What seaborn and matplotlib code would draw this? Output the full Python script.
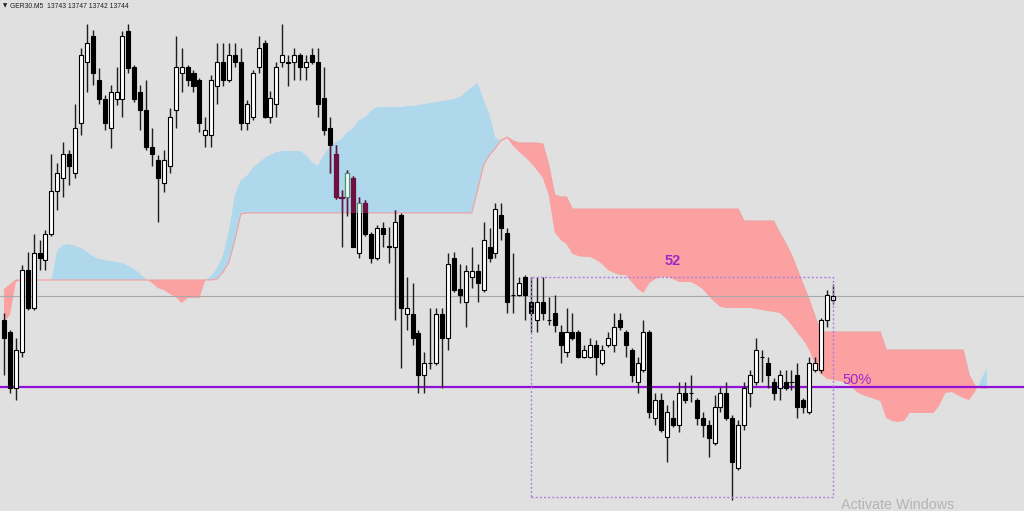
import numpy as np
import matplotlib
matplotlib.use("Agg")
import matplotlib.pyplot as plt
from matplotlib.patches import Rectangle
import seaborn as sns
import pandas as pd

# GER30 M5 candles (oldest -> newest)
opens = [13738, 13735, 13721, 13730, 13750.5, 13741, 13754.75, 13753, 13759.5, 13770.25,
         13773.5, 13779.5, 13774.75, 13787.25, 13802.5, 13809, 13798, 13793.25, 13786, 13793.25,
         13793.25, 13810.25, 13801.25, 13795, 13790.5, 13781.25, 13778, 13772.25, 13776.5, 13790.5,
         13799.75, 13801.25, 13799.75, 13798, 13784.25, 13784.25, 13796.5, 13802.5, 13798, 13804.25,
         13802.5, 13787.25, 13788.75, 13801.25, 13807.25, 13788.75, 13792, 13802.5, 13802.5, 13802.5,
         13804.25, 13801.25, 13804.25, 13802.5, 13793.5, 13786, 13779.5, 13768.75, 13768.75, 13773.5,
         13754.75, 13767.25, 13759.5, 13753.5, 13761, 13756.5, 13756.25, 13764.25, 13739.5, 13739.5,
         13734.75, 13724.25, 13727.25, 13727.25, 13739.5, 13733.5, 13753.5, 13745.75, 13742.5, 13748.75,
         13750.25, 13745.5, 13756.25, 13754.75, 13764.25, 13759.75, 13744.25, 13744.25, 13748.75, 13742.5,
         13738, 13742.5, 13738, 13739.75, 13735, 13730, 13735, 13735, 13728.75, 13728.75,
         13731.75, 13727.25, 13731.75, 13731.75, 13738, 13735, 13730.5, 13722.5, 13725.5, 13735,
         13713.5, 13718, 13708.75, 13713.5, 13711.75, 13719.75, 13719.75, 13718, 13713.5, 13711.75,
         13707.25, 13716.25, 13719.75, 13713.5, 13701, 13711.75, 13719.75, 13722.5, 13728.75, 13727.25,
         13722.5, 13721, 13722.5, 13722.5, 13724.25, 13718, 13715, 13725.5, 13725.5, 13738,
         13743]
highs = [13739.75, 13735.5, 13733.5, 13751.75, 13755, 13759.5, 13758, 13760.5, 13779.5, 13777.25,
         13782.5, 13780.5, 13792, 13806, 13812, 13810.5, 13801, 13794.25, 13796.75, 13801.25,
         13810.25, 13812, 13801.75, 13796.75, 13798, 13786, 13779.25, 13780.5, 13791, 13809,
         13806, 13801.75, 13800.5, 13798.5, 13788.75, 13799.25, 13807.25, 13807.25, 13807.25, 13807.25,
         13806, 13793, 13800.5, 13809, 13808, 13795.25, 13802.5, 13812, 13804.25, 13806,
         13804.75, 13804.25, 13806, 13806, 13801.25, 13788.75, 13781.75, 13770.5, 13775.5, 13774,
         13768.75, 13768, 13760, 13761.75, 13762.5, 13761.25, 13765.5, 13764.75, 13748.75, 13747.25,
         13735.5, 13730, 13741, 13741, 13741, 13754.75, 13755, 13752, 13751.75, 13756.25,
         13752, 13762.5, 13761, 13767.25, 13767.25, 13761, 13754.75, 13748.75, 13749.25, 13748.75,
         13748.75, 13748.75, 13743.75, 13744.25, 13736.75, 13741, 13739.75, 13735.5, 13731.75, 13733.5,
         13733, 13731.75, 13735, 13739.75, 13739.75, 13735.5, 13731, 13728.75, 13738, 13735.5,
         13719.75, 13719.75, 13716.75, 13718, 13722.5, 13722.5, 13724.25, 13718.5, 13715, 13713,
         13719.25, 13721.25, 13722.5, 13714.25, 13713, 13722.5, 13725.5, 13733.5, 13730.5, 13728.75,
         13723.5, 13725.5, 13725.5, 13725.5, 13727.25, 13718.5, 13728.75, 13728.75, 13738.5, 13745.5,
         13747]
lows = [13724.25, 13719.75, 13718, 13728.75, 13740.5, 13740.5, 13750.5, 13750.5, 13759, 13765.5,
        13768.75, 13771.75, 13773.5, 13784.25, 13795, 13796.75, 13792, 13785.5, 13781, 13791.75,
        13788.75, 13799.75, 13792.5, 13785.5, 13780.5, 13776.5, 13762.5, 13770, 13774.75, 13786,
        13795, 13796.5, 13795, 13785, 13781.25, 13781.25, 13792, 13796.5, 13797.5, 13801.25,
        13785.5, 13785.5, 13788, 13799.75, 13788.5, 13787.25, 13788.75, 13801.25, 13796.5, 13798,
        13798, 13798, 13802, 13788.75, 13784.25, 13774.75, 13768.25, 13756.25, 13764, 13756.25,
        13753.5, 13759, 13752.25, 13753, 13756.25, 13752.25, 13738, 13726, 13735.5, 13731.75,
        13719.75, 13719.75, 13725.75, 13726.75, 13721, 13730.5, 13745, 13742.25, 13736.25, 13746,
        13742.5, 13745, 13752.5, 13753.5, 13758, 13739.75, 13739.75, 13744, 13738, 13735,
        13735, 13738, 13736.75, 13735, 13727.25, 13728.75, 13733, 13728.5, 13728.5, 13728.5,
        13724.25, 13726.75, 13731.25, 13730, 13735.5, 13728.75, 13722.5, 13719.75, 13725, 13713.5,
        13711.75, 13710, 13702.5, 13711.25, 13710, 13717.25, 13717.5, 13711.75, 13708.75, 13703.75,
        13706.75, 13715, 13713, 13693, 13700.5, 13710.5, 13716.25, 13721.75, 13722.5, 13721,
        13718, 13718, 13720.5, 13720.5, 13713.5, 13714.75, 13714.5, 13725, 13724.75, 13736.25,
        13742]
closes = [13733.5, 13721, 13730.5, 13750.5, 13741, 13754.75, 13753.5, 13759.5, 13770.25, 13774.75,
          13779.5, 13776.5, 13786, 13804.25, 13807.25, 13799.75, 13793.25, 13787.25, 13795, 13795,
          13809, 13801, 13793.25, 13790.5, 13781.25, 13779.5, 13773.5, 13778, 13788.75, 13801.25,
          13801.25, 13798, 13796.5, 13787.25, 13785.5, 13798, 13802.5, 13798, 13804.25, 13802.5,
          13787.25, 13792, 13799.75, 13806, 13788.75, 13793.5, 13801.25, 13804.25, 13802.25, 13804.25,
          13801.25, 13802.5, 13802.5, 13792, 13785.5, 13781.75, 13768.75, 13768.5, 13774.75, 13756.25,
          13767.25, 13759.5, 13753.5, 13761, 13759.5, 13756.25, 13762.5, 13741, 13741, 13733.5,
          13724.25, 13727.25, 13727.25, 13739.5, 13733.5, 13752, 13745.5, 13744.25, 13750.25, 13750.25,
          13747.25, 13758, 13753.5, 13765.75, 13761, 13742.5, 13744.25, 13747.25, 13744.25, 13739.75,
          13742.5, 13739.75, 13738, 13736.75, 13731.75, 13735, 13733.5, 13728.75, 13730.5, 13731.75,
          13728.75, 13730.5, 13733.5, 13736.25, 13736.25, 13731.75, 13724.25, 13727.25, 13735, 13715,
          13718, 13710.5, 13715, 13711.75, 13719.75, 13718, 13719.75, 13713.5, 13711.75, 13708.5,
          13716.25, 13719.75, 13713.5, 13702.5, 13711.75, 13721, 13724.25, 13730.5, 13728.75, 13724.25,
          13719.75, 13724.25, 13721, 13722.5, 13716.25, 13716.25, 13727.25, 13727.25, 13738, 13744.25,
          13744]

# Ichimoku cloud, shifted 26 bars ahead of price
span_a = [13737.5, 13739.25, 13747.5, 13748, 13748, 13748, 13748, 13748, 13748, 13755.5,
          13756.75, 13757, 13756.5, 13756, 13755, 13754, 13753.25, 13753, 13752.75, 13752.5,
          13752.25, 13751.5, 13750.75, 13749.5, 13748.25, 13747.25, 13746, 13745.5, 13744.5, 13743.75,
          13742.25, 13743.5, 13743.5, 13743.5, 13748, 13749, 13751, 13754.25, 13760.5, 13769.25,
          13773, 13774, 13776, 13777.25, 13778.5, 13779.25, 13780, 13780.25, 13780.25, 13780.25,
          13780.25, 13779.25, 13777.5, 13776.5, 13779.25, 13781.25, 13782.5, 13783.25, 13785, 13786,
          13788, 13788.75, 13790.25, 13791.25, 13791.25, 13791.25, 13791.25, 13791.25, 13791.5, 13791.5,
          13791.75, 13792, 13792.25, 13792.5, 13792.75, 13793, 13793.25, 13793.75, 13795, 13796.25,
          13797.25, 13793, 13789.25, 13783.5, 13782.75, 13783.5, 13781.5, 13780, 13778.75, 13777.25,
          13775.5, 13773.5, 13769.25, 13760, 13758, 13757, 13754.5, 13754, 13753.75, 13753.75,
          13753, 13752, 13750.5, 13749.75, 13749.25, 13749.25, 13747.5, 13745.75, 13744.75, 13747.25,
          13748.25, 13748.75, 13748.75, 13748.25, 13747.5, 13747.5, 13747.5, 13746.75, 13745.75, 13744,
          13742.5, 13741.25, 13741, 13741, 13741, 13741, 13741, 13740.75, 13740.5, 13740.25,
          13740, 13739.75, 13738.5, 13736.75, 13734.75, 13733, 13730.5, 13726.75, 13724.5, 13723.25,
          13723, 13722.75, 13722.5, 13721.5, 13720, 13719.25, 13718.75, 13718.25, 13717.75, 13713.5,
          13712.75, 13712.5, 13712.75, 13714.75, 13714.75, 13714.75, 13714.75, 13714.75, 13716.75, 13719.75,
          13720, 13719.25, 13718.5, 13718, 13720, 13723, 13726]
span_b = [13745.5, 13746.75, 13748, 13748, 13748, 13748, 13748, 13748, 13748, 13748,
          13748, 13748, 13748, 13748, 13748, 13748, 13748, 13748, 13748, 13748,
          13748, 13748, 13748, 13748, 13748, 13748, 13748, 13748, 13748, 13748,
          13748, 13748, 13748, 13748, 13748, 13748, 13748.25, 13750, 13752.5, 13758,
          13764.5, 13764.75, 13764.75, 13764.75, 13764.75, 13764.75, 13764.75, 13764.75, 13764.75, 13764.75,
          13764.75, 13764.75, 13764.75, 13764.75, 13764.75, 13764.75, 13764.75, 13764.75, 13764.75, 13764.75,
          13764.75, 13764.75, 13764.75, 13764.75, 13764.75, 13764.75, 13764.75, 13764.75, 13764.75, 13764.75,
          13764.75, 13764.75, 13764.75, 13764.75, 13764.75, 13764.75, 13764.75, 13764.75, 13764.75, 13764.75,
          13770.5, 13776.75, 13779.25, 13781, 13783, 13783.75, 13782.75, 13782.25, 13782.25, 13782.25,
          13782.25, 13782, 13776.75, 13769.25, 13768.75, 13768.75, 13765.75, 13765.75, 13765.75, 13765.75,
          13765.75, 13765.75, 13765.75, 13765.75, 13765.75, 13765.75, 13765.75, 13765.75, 13765.75, 13765.75,
          13765.75, 13765.75, 13765.75, 13765.75, 13765.75, 13765.75, 13765.75, 13765.75, 13765.75, 13765.75,
          13765.75, 13765.75, 13765.75, 13765.75, 13765.75, 13762.75, 13762.75, 13762.75, 13762.75, 13762.75,
          13762.75, 13759.75, 13757.25, 13754.25, 13750.5, 13746.75, 13743, 13738.75, 13735, 13735,
          13735, 13735, 13735, 13735, 13735, 13735, 13735, 13735, 13735, 13730.5,
          13730.5, 13730.5, 13730.5, 13730.5, 13730.5, 13730.5, 13730.5, 13730.5, 13730.5, 13730.5,
          13730.5, 13730.5, 13730.5, 13724.25, 13721.5, 13721, 13721]

symbol = "GER30.M5"
bid_price = 13744
level_50 = 13721.25
box_left, box_right = 89, 140
box_top, box_bottom = 13748.75, 13693.75
box_label = "52"
level_label = "50%"

bg = "#e0e0e0"
blue = "#b0d8ec"
pink = "#fba1a1"
maroon = "#6e1040"
purple = "#9010d8"
label_col = "#a028c8"

sns.set_style("white", {"axes.facecolor": bg, "figure.facecolor": bg})
plt.rcParams["font.family"] = ["Liberation Sans", "DejaVu Sans"]

candles = pd.DataFrame({"open": opens, "high": highs, "low": lows, "close": closes})
candles["bar"] = np.arange(len(candles))
cloud = pd.DataFrame({"a": span_a, "b": span_b})
cloud["bar"] = np.arange(len(cloud))

fig = plt.figure(figsize=(10.24, 5.11), dpi=100)
ax = fig.add_axes([0, 0, 1, 1])

xa = cloud["bar"].values
A = cloud["a"].values
B = cloud["b"].values
ax.fill_between(xa, A, B, where=A >= B, interpolate=True, color=blue, lw=0, zorder=1)
ax.fill_between(xa, A, B, where=A < B, interpolate=True, color=pink, lw=0, zorder=1)
sns.lineplot(data=cloud, x="bar", y="b", color="#f2a0a0", lw=0.8, ax=ax, zorder=1.5)

# invisible copy of the bullish cloud, used to tint candles that sit inside it
clip_poly = ax.fill_between(xa[34:84], A[34:84], B[34:84], alpha=0, lw=0)
clip_path = clip_poly.get_paths()[0]

ax.axhline(bid_price, color="#a9a9a9", lw=0.8, zorder=1.6)
ax.axhline(level_50, color=purple, lw=1.6, zorder=2)

x = candles["bar"].values
o = candles["open"].values
c = candles["close"].values
bull = c >= o
bear = ~bull
ax.vlines(x, candles["low"], candles["high"], color="#1e1e1e", lw=1, zorder=3)
ax.bar(x, c - o, bottom=o, width=0.68, color=np.where(bull, "white", "black"),
       edgecolor="black", lw=0.8, zorder=4)

# candles overlapping the blue cloud change colour
tint_wicks = ax.vlines(x, candles["low"], candles["high"], color=maroon, lw=1, zorder=4.5)
tint_wicks.set_clip_path(clip_path, ax.transData)
tint = ax.bar(x[bear], (c - o)[bear], bottom=o[bear], width=0.68, color=maroon,
              edgecolor=maroon, lw=0.8, zorder=5)
tint_up = ax.bar(x[bull], (c - o)[bull], bottom=o[bull], width=0.68, color="#eef6f2",
                 edgecolor="#4c9078", lw=0.8, zorder=5)
for p in list(tint) + list(tint_up):
    p.set_clip_path(clip_path, ax.transData)

ax.add_patch(Rectangle((box_left, box_bottom), box_right - box_left, box_top - box_bottom,
                       fill=False, edgecolor="#b07ee0", lw=1, ls=(0, (1.5, 1.5)), zorder=6))
ax.text(113, 13752.75, box_label, color=label_col, fontsize=10.5, fontweight="bold",
        ha="center", va="center", zorder=7)
ax.text(box_right + 1.6, 13722.9, level_label, color=label_col,
        fontsize=10.5, ha="left", va="center", zorder=7)

ax.set_xlim(-0.68, 172.27)
ax.set_ylim(13690.25, 13818)
ax.set_xticks([])
ax.set_yticks([])
ax.set_xlabel("")
ax.set_ylabel("")
for s in ax.spines.values():
    s.set_visible(False)

fig.text(0.003, 0.988, "\u25bc", fontsize=4, color="#202020", va="center", family="DejaVu Sans")
fig.text(0.0095, 0.988, f"{symbol}  {opens[-1]:.0f} {highs[-1]:.0f} {lows[-1]:.0f} {closes[-1]:.0f}",
         fontsize=4.9, color="#202020", va="center")
fig.text(0.821, 0.026, "Activate Windows", fontsize=10.3, color="#b4b4b4", va="top", ha="left")

fig.savefig("out.png", dpi=100, facecolor=bg)
